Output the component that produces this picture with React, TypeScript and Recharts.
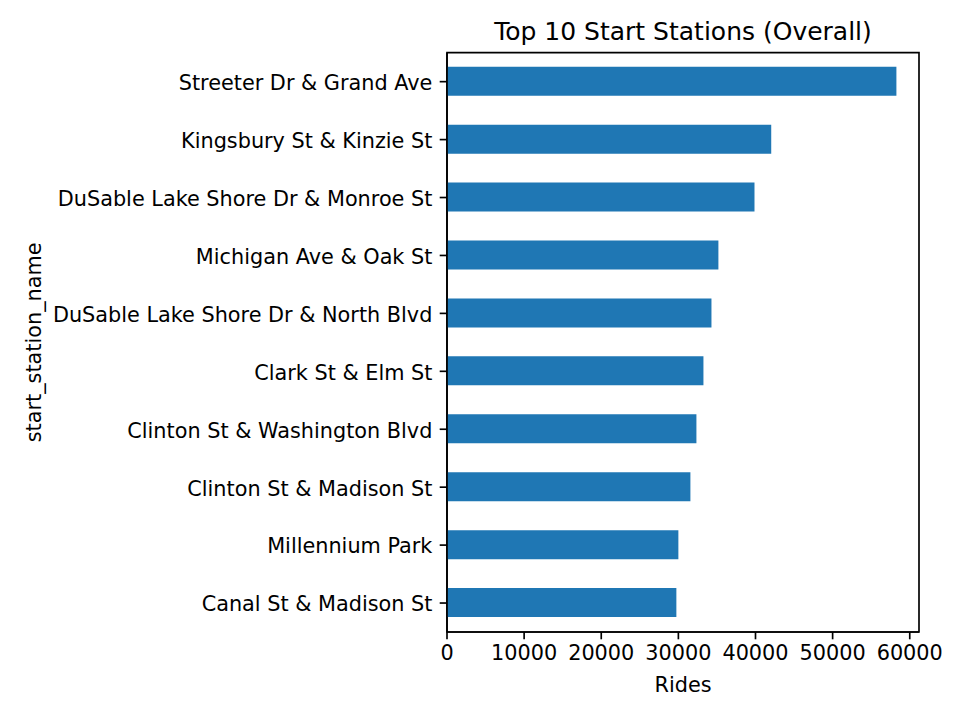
import { BarChart, Bar, XAxis, YAxis, Label, ReferenceArea } from 'recharts';

const stations = [
  'Streeter Dr & Grand Ave',
  'Kingsbury St & Kinzie St',
  'DuSable Lake Shore Dr & Monroe St',
  'Michigan Ave & Oak St',
  'DuSable Lake Shore Dr & North Blvd',
  'Clark St & Elm St',
  'Clinton St & Washington Blvd',
  'Clinton St & Madison St',
  'Millennium Park',
  'Canal St & Madison St',
];

const rides = [58270, 42040, 39870, 35190, 34290, 33250, 32340, 31560, 30000, 29740];

const xTicks = [0, 10000, 20000, 30000, 40000, 50000, 60000];
const xMax = 61200;

const data = stations.map((name, i) => ({ name, rides: rides[i] }));

const FONT = 'DejaVu Sans';
const AXIS = '#000000';

export default function App() {
  return (
    <div
      style={{
        position: 'absolute',
        left: 0,
        top: 0,
        width: 960,
        height: 720,
        background: '#fff',
        fontFamily: FONT,
      }}
    >
      <BarChart
        width={960}
        height={720}
        data={data}
        layout='vertical'
        margin={{ top: 52.7, right: 41, bottom: 0, left: 0 }}
      >
        <XAxis
          type='number'
          domain={[0, xMax]}
          ticks={xTicks}
          allowDataOverflow
          height={88}
          tickSize={7.3}
          tickMargin={6}
          stroke={AXIS}
          strokeWidth={1.67}
          tick={{ fill: '#000', fontSize: 20.8, fontFamily: FONT }}
          interval={0}
        >
          <Label
            value='Rides'
            position='insideBottom'
            offset={28}
            style={{ fill: '#000', fontSize: 20.8, fontFamily: FONT }}
          />
        </XAxis>
        <YAxis
          type='category'
          dataKey='name'
          width={447}
          interval={0}
          tickSize={7.3}
          tickMargin={7.3}
          stroke={AXIS}
          strokeWidth={1.67}
          tick={{ fill: '#000', fontSize: 20.8, fontFamily: FONT, dy: 1 }}
        >
          <Label
            value='start_station_name'
            angle={-90}
            position='insideLeft'
            offset={34}
            style={{
              fill: '#000',
              fontSize: 20.8,
              fontFamily: FONT,
              textAnchor: 'middle',
            }}
          />
        </YAxis>
        <Bar dataKey='rides' fill='#1f77b4' barSize={29} isAnimationActive={false} />
        <ReferenceArea
          x1={0}
          x2={xMax}
          ifOverflow='visible'
          fill='none'
          fillOpacity={0}
          stroke={AXIS}
          strokeWidth={1.67}
          strokeOpacity={1}
        >
          <Label
            value='Top 10 Start Stations (Overall)'
            position='top'
            offset={13}
            style={{ fill: '#000', fontSize: 25, fontFamily: FONT }}
          />
        </ReferenceArea>
      </BarChart>
    </div>
  );
}
